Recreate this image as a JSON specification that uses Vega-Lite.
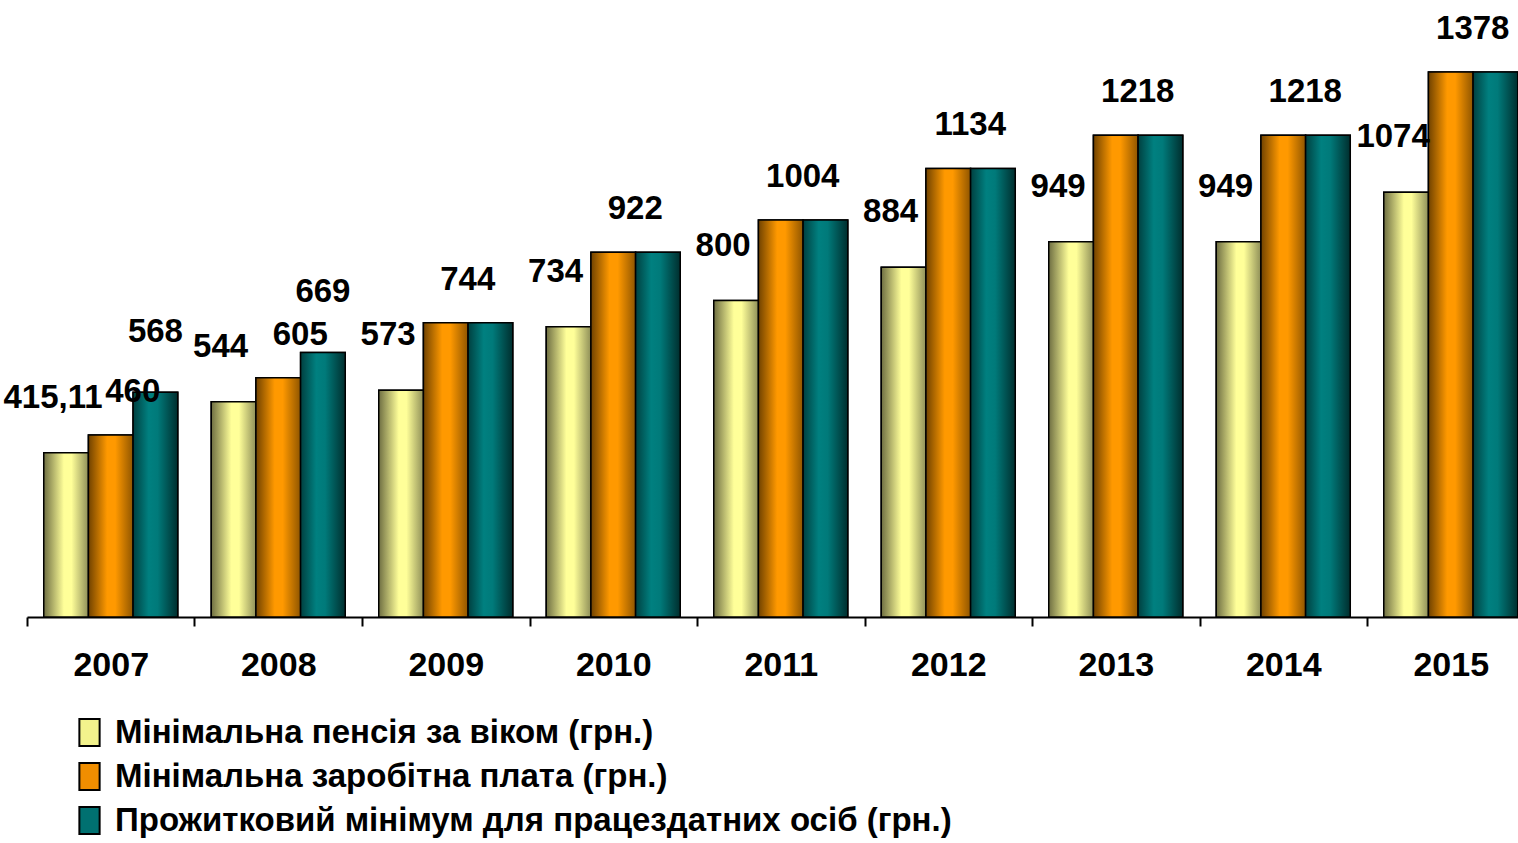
{
  "$schema": "https://vega.github.io/schema/vega-lite/v6.json",
  "width": 1491,
  "height": 617,
  "autosize": {"type": "none"},
  "padding": {"left": 27, "top": 0, "right": 0, "bottom": 226},
  "background": "white",
  "config": {
    "view": {"stroke": null},
    "font": "Liberation Sans",
    "text": {"font": "Liberation Sans", "fontWeight": "bold", "fontSize": 33, "color": "black"}
  },
  "data": {
    "values": [
      {"year": "2007", "series": "Мінімальна пенсія за віком (грн.)", "value": 415.11, "label": "415,11"},
      {"year": "2007", "series": "Мінімальна заробітна плата (грн.)", "value": 460, "label": "460"},
      {"year": "2007", "series": "Прожитковий мінімум для працездатних осіб (грн.)", "value": 568, "label": "568"},
      {"year": "2008", "series": "Мінімальна пенсія за віком (грн.)", "value": 544, "label": "544"},
      {"year": "2008", "series": "Мінімальна заробітна плата (грн.)", "value": 605, "label": "605"},
      {"year": "2008", "series": "Прожитковий мінімум для працездатних осіб (грн.)", "value": 669, "label": "669"},
      {"year": "2009", "series": "Мінімальна пенсія за віком (грн.)", "value": 573, "label": "573"},
      {"year": "2009", "series": "Мінімальна заробітна плата (грн.)", "value": 744, "label": "744"},
      {"year": "2009", "series": "Прожитковий мінімум для працездатних осіб (грн.)", "value": 744, "label": ""},
      {"year": "2010", "series": "Мінімальна пенсія за віком (грн.)", "value": 734, "label": "734"},
      {"year": "2010", "series": "Мінімальна заробітна плата (грн.)", "value": 922, "label": "922"},
      {"year": "2010", "series": "Прожитковий мінімум для працездатних осіб (грн.)", "value": 922, "label": ""},
      {"year": "2011", "series": "Мінімальна пенсія за віком (грн.)", "value": 800, "label": "800"},
      {"year": "2011", "series": "Мінімальна заробітна плата (грн.)", "value": 1004, "label": "1004"},
      {"year": "2011", "series": "Прожитковий мінімум для працездатних осіб (грн.)", "value": 1004, "label": ""},
      {"year": "2012", "series": "Мінімальна пенсія за віком (грн.)", "value": 884, "label": "884"},
      {"year": "2012", "series": "Мінімальна заробітна плата (грн.)", "value": 1134, "label": "1134"},
      {"year": "2012", "series": "Прожитковий мінімум для працездатних осіб (грн.)", "value": 1134, "label": ""},
      {"year": "2013", "series": "Мінімальна пенсія за віком (грн.)", "value": 949, "label": "949"},
      {"year": "2013", "series": "Мінімальна заробітна плата (грн.)", "value": 1218, "label": "1218"},
      {"year": "2013", "series": "Прожитковий мінімум для працездатних осіб (грн.)", "value": 1218, "label": ""},
      {"year": "2014", "series": "Мінімальна пенсія за віком (грн.)", "value": 949, "label": "949"},
      {"year": "2014", "series": "Мінімальна заробітна плата (грн.)", "value": 1218, "label": "1218"},
      {"year": "2014", "series": "Прожитковий мінімум для працездатних осіб (грн.)", "value": 1218, "label": ""},
      {"year": "2015", "series": "Мінімальна пенсія за віком (грн.)", "value": 1074, "label": "1074"},
      {"year": "2015", "series": "Мінімальна заробітна плата (грн.)", "value": 1378, "label": "1378"},
      {"year": "2015", "series": "Прожитковий мінімум для працездатних осіб (грн.)", "value": 1378, "label": ""}
    ]
  },
  "encoding": {
    "x": {
      "field": "year",
      "type": "nominal",
      "scale": {"paddingInner": 0.2, "paddingOuter": 0.0507, "align": 0.986},
      "axis": {
        "title": null,
        "labelAngle": 0,
        "labelFont": "Liberation Sans",
        "labelFontWeight": "bold",
        "labelFontSize": 34,
        "labelColor": "black",
        "labelPadding": 22,
        "domainColor": "black",
        "domainWidth": 2,
        "tickColor": "black",
        "tickWidth": 2,
        "tickSize": 9,
        "bandPosition": 0,
        "tickOffset": -16.75,
        "labelOffset": 16.75
      }
    },
    "xOffset": {
      "field": "series",
      "type": "nominal",
      "sort": ["Мінімальна пенсія за віком (грн.)", "Мінімальна заробітна плата (грн.)", "Прожитковий мінімум для працездатних осіб (грн.)"]
    },
    "y": {"field": "value", "type": "quantitative", "scale": {"domain": [0, 1560], "nice": false}, "axis": null}
  },
  "layer": [
    {
      "mark": {"type": "bar", "stroke": "black", "strokeWidth": 1.5},
      "encoding": {
        "color": {
          "field": "series",
          "type": "nominal",
          "sort": ["Мінімальна пенсія за віком (грн.)", "Мінімальна заробітна плата (грн.)", "Прожитковий мінімум для працездатних осіб (грн.)"],
          "scale": {"range": ["#f2f28c", "#f08e00", "#007070"]},
          "legend": {
            "title": null,
            "orient": "none",
            "legendX": 46,
            "legendY": 716,
            "padding": 0,
            "direction": "vertical",
            "symbolType": "M-0.75,-1H0.75V1H-0.75Z",
            "symbolSize": 729,
            "symbolStrokeColor": "black",
            "symbolStrokeWidth": 2,
            "symbolOpacity": 1,
            "labelFont": "Liberation Sans",
            "labelFontWeight": "bold",
            "labelFontSize": 33,
            "labelColor": "black",
            "labelOffset": 9,
            "labelLimit": 1000,
            "rowPadding": 9
          }
        }
      }
    },
    {
      "transform": [{"filter": "datum.series === 'Мінімальна пенсія за віком (грн.)'"}],
      "mark": {"type": "bar", "stroke": "black", "strokeWidth": 1.5, "color": {"gradient": "linear", "x1": 0, "y1": 0, "x2": 1, "y2": 0, "stops": [{"offset": 0, "color": "#6e6e42"}, {"offset": 0.45, "color": "#ffff99"}, {"offset": 0.62, "color": "#ffff99"}, {"offset": 1, "color": "#8f8f58"}]}}
    },
    {
      "transform": [{"filter": "datum.series === 'Мінімальна заробітна плата (грн.)'"}],
      "mark": {"type": "bar", "stroke": "black", "strokeWidth": 1.5, "color": {"gradient": "linear", "x1": 0, "y1": 0, "x2": 1, "y2": 0, "stops": [{"offset": 0, "color": "#704200"}, {"offset": 0.42, "color": "#ff9900"}, {"offset": 0.6, "color": "#ff9900"}, {"offset": 1, "color": "#8f5500"}]}}
    },
    {
      "transform": [{"filter": "datum.series === 'Прожитковий мінімум для працездатних осіб (грн.)'"}],
      "mark": {"type": "bar", "stroke": "black", "strokeWidth": 1.5, "color": {"gradient": "linear", "x1": 0, "y1": 0, "x2": 1, "y2": 0, "stops": [{"offset": 0, "color": "#004040"}, {"offset": 0.35, "color": "#008080"}, {"offset": 0.55, "color": "#007a7a"}, {"offset": 1, "color": "#002e2e"}]}}
    },
    {
      "transform": [{"filter": "datum.series === 'Мінімальна пенсія за віком (грн.)'"}],
      "mark": {"type": "text", "baseline": "middle", "dx": -13, "dy": -55},
      "encoding": {"text": {"field": "label"}}
    },
    {
      "transform": [{"filter": "datum.series === 'Мінімальна заробітна плата (грн.)'"}],
      "mark": {"type": "text", "baseline": "middle", "dx": 22, "dy": -43},
      "encoding": {"text": {"field": "label"}}
    },
    {
      "transform": [{"filter": "datum.series === 'Прожитковий мінімум для працездатних осіб (грн.)' && datum.label !== ''"}],
      "mark": {"type": "text", "baseline": "middle", "dx": 0, "dy": -60},
      "encoding": {"text": {"field": "label"}}
    }
  ]
}
